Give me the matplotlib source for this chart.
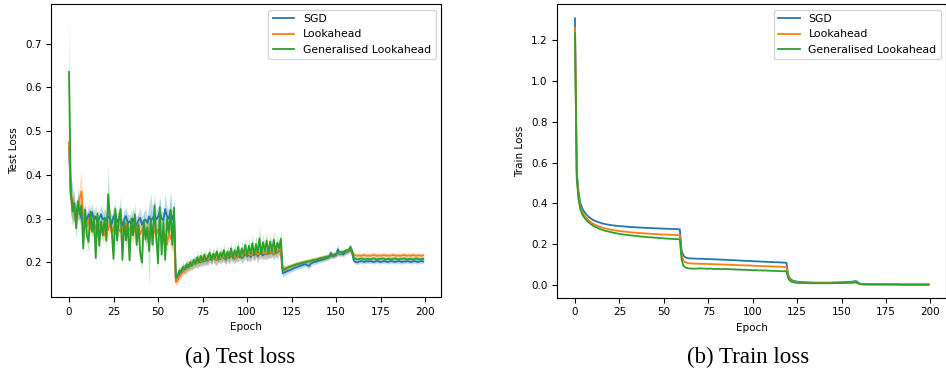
import numpy as np
import matplotlib
matplotlib.use('Agg')
import matplotlib.pyplot as plt

# values are stored in thousandths
epochs = np.arange(200)
labels = ['SGD', 'Lookahead', 'Generalised Lookahead']
colors = ['#1f77b4', '#ff7f0e', '#2ca02c']

test_sgd = [
    465, 352, 338, 318, 312, 330, 318, 300, 305, 308,
    296, 310, 302, 315, 296, 305, 292, 300, 310, 298,
    302, 295, 305, 300, 288, 305, 310, 292, 300, 296,
    285, 298, 306, 290, 294, 288, 300, 292, 285, 296,
    302, 286, 295, 298, 290, 305, 296, 300, 312, 298,
    304, 318, 300, 296, 322, 305, 300, 318, 298, 310,
    162, 168, 175, 180, 186, 184, 190, 194, 192, 198,
    196, 202, 198, 204, 200, 206, 202, 208, 204, 210,
    206, 212, 208, 205, 212, 208, 214, 210, 206, 214,
    210, 216, 212, 208, 216, 212, 218, 210, 214, 220,
    214, 218, 212, 220, 216, 222, 214, 220, 224, 216,
    222, 218, 226, 220, 224, 218, 226, 222, 228, 224,
    175, 177, 179, 181, 182, 184, 186, 188, 189, 191,
    192, 194, 195, 196, 193, 192, 198, 200, 201, 202,
    204, 205, 206, 207, 209, 210, 212, 222, 214, 215,
    217, 230, 219, 220, 218, 222, 224, 226, 230, 222,
    203, 201, 200, 202, 203, 202, 201, 203, 202, 203,
    202, 201, 202, 203, 202, 201, 202, 203, 202, 201,
    202, 203, 202, 201, 202, 203, 202, 201, 202, 202,
    203, 202, 201, 202, 203, 202, 201, 202, 203, 202,
]
test_la = [
    475, 355, 320, 325, 300, 318, 345, 362, 300, 290,
    282, 300, 276, 290, 268, 285, 272, 292, 270, 280,
    262, 286, 274, 290, 268, 280, 265, 285, 276, 270,
    282, 266, 288, 272, 278, 262, 284, 270, 276, 288,
    264, 274, 282, 266, 276, 270, 258, 280, 272, 262,
    276, 268, 254, 272, 262, 240, 268, 256, 250, 265,
    155, 158, 168, 174, 180, 186, 184, 190, 196, 192,
    198, 202, 198, 206, 202, 208, 204, 210, 206, 212,
    208, 214, 210, 206, 214, 210, 216, 212, 208, 216,
    212, 218, 214, 210, 218, 214, 220, 214, 218, 222,
    216, 220, 216, 222, 218, 224, 218, 222, 226, 220,
    224, 220, 228, 222, 226, 220, 228, 224, 230, 226,
    186, 186, 187, 189, 190, 192, 193, 195, 196, 197,
    198, 199, 200, 201, 202, 203, 204, 205, 206, 207,
    208, 209, 210, 211, 212, 213, 214, 215, 216, 218,
    220, 222, 221, 222, 224, 225, 226, 228, 232, 226,
    217, 216, 215, 216, 215, 216, 217, 215, 216, 215,
    216, 217, 216, 215, 216, 215, 216, 217, 215, 216,
    215, 216, 217, 216, 215, 216, 215, 216, 217, 216,
    215, 216, 215, 217, 216, 215, 216, 216, 215, 216,
]
test_gl = [
    635, 360, 316, 335, 278, 340, 310, 330, 232, 320,
    262, 247, 316, 270, 306, 210, 312, 238, 294, 262,
    300, 250, 356, 300, 272, 208, 322, 250, 300, 322,
    206, 298, 250, 290, 205, 300, 262, 310, 240, 285,
    220, 200, 296, 252, 280, 226, 300, 240, 330, 258,
    198, 326, 218, 292, 206, 300, 268, 320, 240, 325,
    165, 170, 182, 178, 190, 184, 196, 188, 200, 192,
    206, 196, 212, 200, 215, 202, 218, 204, 212, 222,
    205, 220, 210, 225, 206, 222, 214, 228, 208, 225,
    212, 232, 210, 228, 215, 236, 212, 232, 218, 240,
    214, 238, 220, 244, 216, 242, 222, 255, 218, 246,
    226, 250, 220, 248, 225, 252, 222, 245, 232, 254,
    185, 183, 186, 188, 190, 191, 193, 194, 196, 196,
    198, 199, 200, 201, 202, 202, 204, 205, 206, 206,
    208, 209, 210, 211, 212, 213, 214, 215, 217, 218,
    219, 222, 223, 224, 222, 226, 228, 227, 236, 226,
    210, 208, 207, 208, 209, 208, 207, 208, 208, 207,
    208, 209, 208, 207, 208, 208, 209, 208, 207, 208,
    208, 207, 208, 209, 208, 207, 208, 208, 209, 208,
    207, 208, 208, 207, 208, 209, 208, 207, 208, 208,
]

test_sgd_std = [
    30, 45, 40, 25, 22, 30, 20, 18, 20, 22,
    18, 22, 16, 20, 18, 25, 16, 18, 22, 18,
    20, 18, 22, 16, 20, 25, 18, 20, 16, 22,
    18, 20, 22, 18, 16, 20, 25, 18, 20, 16,
    22, 18, 20, 25, 18, 30, 60, 18, 35, 20,
    22, 30, 20, 18, 35, 22, 20, 45, 24, 30,
    8, 8, 10, 10, 12, 10, 12, 10, 12, 10,
    12, 10, 12, 14, 10, 12, 10, 14, 12, 10,
    12, 10, 14, 12, 10, 12, 14, 10, 12, 12,
    14, 12, 10, 12, 14, 12, 10, 14, 12, 12,
    12, 14, 12, 10, 14, 12, 16, 12, 14, 12,
    14, 12, 16, 12, 10, 14, 12, 16, 12, 14,
    8, 8, 7, 7, 6, 6, 6, 6, 6, 6,
    6, 6, 6, 6, 8, 6, 6, 6, 6, 6,
    6, 6, 6, 6, 6, 6, 6, 10, 6, 6,
    6, 12, 6, 6, 6, 6, 6, 6, 8, 6,
    5, 5, 5, 5, 5, 5, 5, 5, 5, 5,
    5, 5, 5, 5, 5, 5, 5, 5, 5, 5,
    5, 5, 5, 5, 5, 5, 5, 5, 5, 5,
    5, 5, 5, 5, 5, 5, 5, 5, 5, 5,
]
test_la_std = [
    30, 35, 30, 25, 22, 25, 40, 45, 30, 22,
    18, 22, 16, 20, 18, 22, 16, 18, 20, 18,
    20, 18, 22, 16, 20, 22, 18, 20, 16, 22,
    18, 20, 22, 18, 16, 20, 22, 18, 20, 25,
    22, 18, 20, 22, 18, 20, 18, 18, 22, 20,
    22, 20, 20, 18, 22, 22, 20, 22, 24, 22,
    8, 8, 10, 10, 12, 10, 12, 10, 12, 10,
    12, 10, 12, 12, 10, 12, 10, 12, 12, 10,
    12, 10, 12, 12, 10, 12, 12, 10, 12, 12,
    12, 12, 10, 12, 12, 12, 10, 12, 12, 12,
    12, 12, 12, 10, 12, 12, 14, 12, 12, 12,
    12, 12, 14, 12, 10, 12, 12, 14, 12, 12,
    7, 7, 7, 6, 6, 6, 6, 6, 6, 6,
    6, 6, 6, 6, 6, 6, 6, 6, 6, 6,
    6, 6, 6, 6, 6, 6, 6, 6, 6, 6,
    6, 6, 6, 6, 6, 6, 6, 6, 8, 6,
    6, 6, 6, 6, 6, 6, 6, 6, 6, 6,
    6, 6, 6, 6, 6, 6, 6, 6, 6, 6,
    6, 6, 6, 6, 6, 6, 6, 6, 6, 6,
    6, 6, 6, 6, 6, 6, 6, 6, 6, 6,
]
test_gl_std = [
    125, 50, 35, 30, 25, 30, 25, 28, 20, 25,
    20, 22, 25, 20, 22, 18, 25, 20, 22, 20,
    25, 20, 65, 25, 22, 18, 28, 20, 25, 28,
    18, 25, 20, 25, 18, 25, 22, 28, 20, 25,
    18, 18, 25, 20, 25, 80, 25, 20, 30, 22,
    18, 30, 20, 25, 18, 25, 22, 28, 20, 28,
    8, 10, 10, 10, 12, 10, 12, 10, 12, 10,
    12, 10, 14, 10, 14, 10, 14, 10, 12, 14,
    10, 14, 12, 14, 10, 14, 12, 16, 10, 14,
    12, 16, 10, 16, 12, 18, 10, 16, 12, 18,
    12, 18, 12, 20, 12, 20, 14, 30, 12, 20,
    14, 22, 12, 20, 14, 22, 12, 18, 14, 20,
    8, 8, 7, 7, 6, 6, 6, 6, 6, 6,
    6, 6, 6, 6, 6, 6, 6, 6, 6, 6,
    6, 6, 6, 6, 6, 6, 6, 6, 6, 6,
    6, 8, 6, 6, 6, 6, 6, 6, 8, 6,
    5, 5, 5, 5, 5, 5, 5, 5, 5, 5,
    5, 5, 5, 5, 5, 5, 5, 5, 5, 5,
    5, 5, 5, 5, 5, 5, 5, 5, 5, 5,
    5, 5, 5, 5, 5, 5, 5, 5, 5, 5,
]

train_sgd = [
    1307, 560, 455, 405, 378, 362, 350, 340, 332, 326,
    320, 316, 312, 309, 306, 303, 301, 299, 297, 296,
    294, 293, 292, 291, 290, 289, 288, 288, 287, 286,
    286, 285, 284, 284, 283, 283, 282, 282, 281, 281,
    280, 280, 280, 279, 279, 278, 278, 278, 277, 277,
    277, 276, 276, 276, 275, 275, 275, 274, 274, 273,
    170, 145, 137, 133, 131, 131, 130, 130, 130, 129,
    129, 129, 129, 128, 128, 128, 127, 127, 126, 126,
    126, 125, 125, 125, 124, 124, 123, 123, 122, 122,
    122, 121, 121, 120, 120, 119, 119, 119, 118, 118,
    117, 117, 116, 116, 116, 115, 115, 114, 114, 114,
    113, 113, 112, 112, 112, 111, 111, 110, 110, 109,
    50, 32, 25, 21, 19, 17, 16, 15, 15, 14,
    14, 13, 13, 13, 12, 12, 12, 12, 12, 12,
    12, 12, 12, 12, 12, 13, 13, 13, 13, 14,
    14, 14, 15, 15, 16, 16, 17, 18, 20, 16,
    8, 6, 5, 5, 5, 4, 4, 4, 4, 4,
    4, 4, 4, 4, 4, 4, 4, 4, 4, 4,
    4, 4, 4, 3, 3, 3, 3, 3, 3, 3,
    3, 3, 3, 3, 3, 3, 3, 3, 3, 3,
]
train_la = [
    1260, 540, 435, 385, 360, 345, 333, 323, 315, 308,
    302, 297, 293, 289, 286, 283, 280, 278, 276, 274,
    272, 270, 269, 268, 266, 265, 264, 263, 262, 261,
    260, 259, 258, 257, 257, 256, 255, 255, 254, 253,
    253, 252, 252, 251, 251, 250, 250, 249, 249, 248,
    248, 248, 247, 247, 246, 246, 246, 245, 245, 244,
    145, 120, 112, 109, 107, 106, 106, 105, 105, 105,
    105, 104, 104, 104, 104, 103, 103, 103, 102, 102,
    102, 101, 101, 101, 100, 100, 100, 99, 99, 99,
    98, 98, 98, 97, 97, 97, 96, 96, 96, 95,
    95, 95, 94, 94, 94, 93, 93, 93, 92, 92,
    92, 91, 91, 91, 90, 90, 90, 89, 89, 88,
    42, 26, 20, 17, 15, 14, 13, 12, 12, 11,
    11, 11, 11, 10, 10, 10, 10, 10, 10, 10,
    10, 10, 10, 10, 10, 11, 11, 11, 11, 11,
    11, 12, 12, 12, 13, 13, 13, 14, 15, 12,
    6, 5, 4, 4, 4, 4, 4, 4, 4, 4,
    4, 4, 4, 4, 4, 4, 4, 4, 3, 3,
    3, 3, 3, 3, 3, 3, 3, 3, 3, 3,
    3, 3, 3, 3, 3, 3, 3, 3, 3, 3,
]
train_gl = [
    1234, 520, 420, 372, 348, 334, 322, 313, 305, 298,
    292, 287, 283, 279, 275, 272, 269, 266, 264, 262,
    260, 258, 256, 254, 253, 251, 250, 248, 247, 246,
    245, 244, 243, 242, 241, 240, 239, 238, 237, 237,
    236, 235, 234, 234, 233, 232, 232, 231, 230, 230,
    229, 228, 228, 227, 227, 226, 226, 225, 225, 224,
    125, 96, 87, 84, 82, 81, 81, 80, 81, 81,
    82, 82, 81, 81, 80, 80, 81, 80, 79, 79,
    80, 79, 78, 78, 79, 79, 78, 78, 77, 77,
    77, 76, 76, 76, 75, 75, 75, 74, 74, 74,
    73, 73, 73, 72, 72, 72, 71, 72, 71, 71,
    70, 70, 70, 69, 69, 69, 68, 68, 68, 67,
    33, 21, 16, 14, 12, 11, 11, 10, 10, 10,
    10, 10, 9, 9, 9, 9, 9, 9, 9, 9,
    9, 9, 9, 9, 9, 10, 10, 10, 10, 10,
    10, 10, 11, 11, 11, 11, 12, 12, 13, 10,
    5, 4, 3, 3, 3, 3, 3, 3, 3, 3,
    3, 3, 3, 3, 3, 3, 3, 3, 3, 3,
    3, 3, 2, 2, 2, 2, 2, 2, 2, 2,
    2, 2, 2, 2, 2, 2, 2, 2, 2, 2,
]

test_means = [test_sgd, test_la, test_gl]
test_stds = [test_sgd_std, test_la_std, test_gl_std]
train_means = [train_sgd, train_la, train_gl]

sz = 7.5
plt.rcParams['font.family'] = 'DejaVu Sans'
plt.rcParams['xtick.labelsize'] = sz
plt.rcParams['ytick.labelsize'] = sz

fig = plt.figure(figsize=(9.46, 3.75), dpi=100)
ax1 = fig.add_axes([0.0542, 0.208, 0.4120, 0.781])
ax2 = fig.add_axes([0.5891, 0.206, 0.4112, 0.7827])

# test loss with shaded std
for mean, std, lab, c in zip(test_means, test_stds, labels, colors):
    m = np.array(mean) / 1000
    s = np.array(std) / 1000
    ax1.plot(epochs, m, color=c, lw=1.3, label=lab)
    ax1.fill_between(epochs, m - s, m + s, color=c, alpha=0.26, lw=0)

# train loss
for mean, lab, c in zip(train_means, labels, colors):
    m = np.array(mean) / 1000
    ax2.plot(epochs, m, color=c, lw=1.3, label=lab)

ax1.set_xlim(-9.95, 208.95)
ax1.set_ylim(0.121, 0.79)
ax2.set_xlim(-9.95, 208.95)
ax2.set_ylim(-0.062, 1.376)
ax1.set_xticks([0, 25, 50, 75, 100, 125, 150, 175, 200])
ax2.set_xticks([0, 25, 50, 75, 100, 125, 150, 175, 200])

ax1.set_xlabel('Epoch', fontsize=sz)
ax1.set_ylabel('Test Loss', fontsize=sz)
ax2.set_xlabel('Epoch', fontsize=sz)
ax2.set_ylabel('Train Loss', fontsize=sz)
ax1.legend(loc='upper right', fontsize=7.8)
ax2.legend(loc='upper right', fontsize=7.8)

fig.text(0.254, 0.048, '(a) Test loss', family='Liberation Serif', fontsize=16.5, ha='center', va='center')
fig.text(0.791, 0.048, '(b) Train loss', family='Liberation Serif', fontsize=16.5, ha='center', va='center')

fig.savefig('out.png', dpi=100)
